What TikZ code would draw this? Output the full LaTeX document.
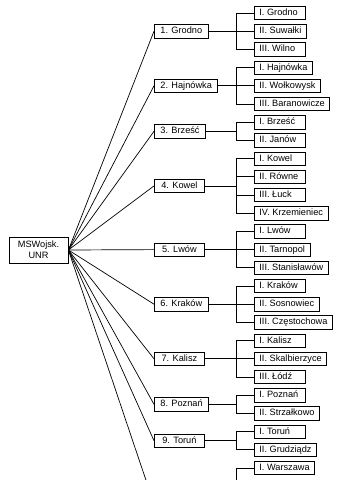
\documentclass[tikz,border=0pt]{standalone}
\usepackage{fontspec}
\setmainfont{Liberation Sans}
\newcommand\mylbox[1]{\setbox0\hbox{#1}\ifdim\wd0<41pt \hbox to 41pt{#1\hfil}\else\box0\fi}
\tikzset{
  base/.style={draw, line width=0.8pt, font=\fontsize{9.2}{10}\selectfont,
    text height=6.7pt, text depth=1.9pt, inner ysep=2.4pt},
  rootbox/.style={draw, line width=0.8pt, font=\fontsize{9.2}{11}\selectfont,
    align=center, minimum width=59pt, minimum height=26pt, inner sep=1pt},
  lone/.style={base, anchor=west, minimum width=50pt, inner xsep=6pt},
  ltwo/.style={base, anchor=west, inner xsep=5pt},
  conn/.style={line width=0.7pt}
}
\begin{document}
\begin{tikzpicture}[x=1pt,y=-1pt]
\useasboundingbox (0,0) rectangle (340,480);
\clip (0,0) rectangle (340,480);
\fill[white] (0,0) rectangle (340,480);
\node[rootbox] (root) at (38.5,250) {MSWojsk.\\UNR};
% level 1
\node[lone] (g1) at (154,31.2) {1. Grodno};
\node[lone] (g2) at (154,85.8) {2. Hajnówka};
\node[lone] (g3) at (154,131.3) {3. Brześć};
\node[lone] (g4) at (154,185.9) {4. Kowel};
\node[lone] (g5) at (154,249.6) {5. Lwów};
\node[lone] (g6) at (154,304.2) {6. Kraków};
\node[lone] (g7) at (154,358.8) {7. Kalisz};
\node[lone] (g8) at (154,404.3) {8. Poznań};
\node[lone] (g9) at (154,440.7) {9. Toruń};
\coordinate (g10) at (154,504);
% brackets
\coordinate (k1) at (236,31.2);
\coordinate (k2) at (236,85.8);
\coordinate (k3) at (236,131.3);
\coordinate (k4) at (236,185.9);
\coordinate (k5) at (236,249.6);
\coordinate (k6) at (236,304.2);
\coordinate (k7) at (236,358.8);
\coordinate (k8) at (236,404.3);
\coordinate (k9) at (236,440.7);
\coordinate (k10) at (236,504);
% level 2
\node[ltwo] (g1a) at (254,13) {\mylbox{I. Grodno}};
\node[ltwo] (g1b) at (254,31.2) {\mylbox{II. Suwałki}};
\node[ltwo] (g1c) at (254,49.4) {\mylbox{III. Wilno}};
\node[ltwo] (g2a) at (254,67.6) {\mylbox{I. Hajnówka}};
\node[ltwo] (g2b) at (254,85.8) {\mylbox{II. Wołkowysk}};
\node[ltwo] (g2c) at (254,104) {\mylbox{III. Baranowicze}};
\node[ltwo] (g3a) at (254,122.2) {\mylbox{I. Brześć}};
\node[ltwo] (g3b) at (254,140.4) {\mylbox{II. Janów}};
\node[ltwo] (g4a) at (254,158.6) {\mylbox{I. Kowel}};
\node[ltwo] (g4b) at (254,176.8) {\mylbox{II. Równe}};
\node[ltwo] (g4c) at (254,195) {\mylbox{III. Łuck}};
\node[ltwo] (g4d) at (254,213.2) {\mylbox{IV. Krzemieniec}};
\node[ltwo] (g5a) at (254,231.4) {\mylbox{I. Lwów}};
\node[ltwo] (g5b) at (254,249.6) {\mylbox{II. Tarnopol}};
\node[ltwo] (g5c) at (254,267.8) {\mylbox{III. Stanisławów}};
\node[ltwo] (g6a) at (254,286) {\mylbox{I. Kraków}};
\node[ltwo] (g6b) at (254,304.2) {\mylbox{II. Sosnowiec}};
\node[ltwo] (g6c) at (254,322.4) {\mylbox{III. Częstochowa}};
\node[ltwo] (g7a) at (254,340.6) {\mylbox{I. Kalisz}};
\node[ltwo] (g7b) at (254,358.8) {\mylbox{II. Skalbierzyce}};
\node[ltwo] (g7c) at (254,377) {\mylbox{III. Łódź}};
\node[ltwo] (g8a) at (254,395.2) {\mylbox{I. Poznań}};
\node[ltwo] (g8b) at (254,413.4) {\mylbox{II. Strzałkowo}};
\node[ltwo] (g9a) at (254,431.6) {\mylbox{I. Toruń}};
\node[ltwo] (g9b) at (254,449.8) {\mylbox{II. Grudziądz}};
\node[ltwo] (g10a) at (254,468) {\mylbox{I. Warszawa}};
% fan
\foreach \i in {1,...,9} {\draw[conn] (root.east) -- (g\i.west);}
\draw[conn] (root.east) -- (g10);
% level1 to bracket
\foreach \i in {1,...,9} {\draw[conn] (g\i.east) -- (k\i);}
% brackets to children
\foreach \c/\k in {g1a/k1,g1b/k1,g1c/k1,g2a/k2,g2b/k2,g2c/k2,g3a/k3,g3b/k3,
  g4a/k4,g4b/k4,g4c/k4,g4d/k4,g5a/k5,g5b/k5,g5c/k5,g6a/k6,g6b/k6,g6c/k6,
  g7a/k7,g7b/k7,g7c/k7,g8a/k8,g8b/k8,g9a/k9,g9b/k9,g10a/k10}
  {\draw[conn] (\c.west) -| (\k);}
\end{tikzpicture}
\end{document}
